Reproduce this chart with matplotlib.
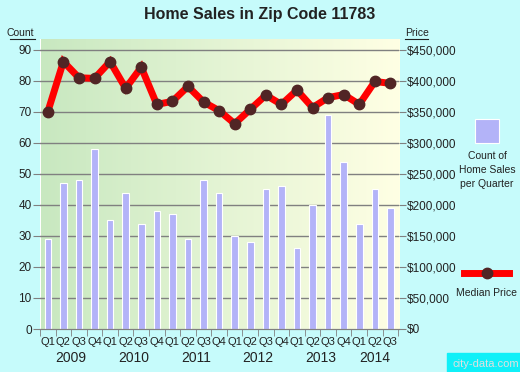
import matplotlib

matplotlib.use("Agg")
import matplotlib.pyplot as plt
import matplotlib.transforms as mtransforms
import numpy as np
from matplotlib.colors import LinearSegmentedColormap

plt.rcParams["font.family"] = ["Liberation Sans", "DejaVu Sans"]

quarters = ["Q1", "Q2", "Q3", "Q4"] * 5 + ["Q1", "Q2", "Q3"]
years = ["2009", "2010", "2011", "2012", "2013", "2014"]
year_centers = [1.5, 5.5, 9.5, 13.5, 17.5, 21]
sales_count = [29, 47, 48, 58, 35, 44, 34, 38, 37, 29, 48, 44,
               30, 28, 45, 46, 26, 40, 69, 54, 34, 45, 39]
median_price = [350000, 431000, 405000, 404000, 431000, 388000, 422000, 362000,
                367000, 391000, 366000, 352000, 331000, 354000, 377000, 362000,
                385000, 357000, 373000, 378000, 362000, 399000, 396000]

BG = "#c6fbfb"
BAR = "#b3b3f8"
TXT = "#222222"
GRID = "#808080"
W, H = 520, 372


def fx(px):
    return px / W


def fy(py):
    return 1 - py / H


fig = plt.figure(figsize=(5.2, 3.72), dpi=100, facecolor=BG)
ax = fig.add_axes([fx(40), fy(329), 359 / W, 290 / H])
ax2 = ax.twinx()

x = np.arange(len(sales_count))
ymax = 93.5
xlim = (-0.45, 22.55)

# gradient background
cmap = LinearSegmentedColormap.from_list("bg", ["#c8e8c0", "#e4f4d4", "#ffffe4"])
ax.imshow(np.linspace(0, 1, 256)[None, :], cmap=cmap, aspect="auto",
          extent=[xlim[0], xlim[1], 0, ymax], zorder=0)

for v in range(10, 100, 10):
    ax.axhline(v, color=GRID, lw=1.0, zorder=1)

ax.bar(x, sales_count, width=0.42, color=BAR, edgecolor="white", linewidth=0.8, zorder=2)

ax2.plot(x, median_price, color="#ff0000", lw=5, zorder=3, solid_joinstyle="miter")
ax2.plot(x, median_price, "o", color="#512525", ms=7.5, zorder=4)

ax.set_xlim(*xlim)
ax.set_ylim(0, ymax)
ax2.set_ylim(0, ymax * 5000)

ax.set_yticks(range(0, 100, 10))
ax.tick_params(axis="y", length=5, color=GRID, labelsize=8.5, labelcolor=TXT, pad=1)
ax2.set_yticks(range(0, 450001, 50000))
ax2.set_yticklabels([f"${v:,}" for v in range(0, 450001, 50000)])
ax2.tick_params(axis="y", length=5, color=GRID, labelsize=8.5, labelcolor=TXT, pad=1)

ax.set_xticks(x)
ax.set_xticklabels(quarters)
ax.set_xticks(np.arange(-0.5, 23, 1), minor=True)
ax.tick_params(axis="x", which="major", length=0, labelsize=8, labelcolor=TXT, pad=6)
ax.tick_params(axis="x", which="minor", length=5, color=GRID)

for a in (ax, ax2):
    for side in ("top", "left", "right"):
        a.spines[side].set_visible(False)
    a.spines["bottom"].set_color(GRID)

year_tf = mtransforms.blended_transform_factory(ax.transData, fig.transFigure)
for xc, yr in zip(year_centers, years):
    ax.text(xc, fy(358), yr, transform=year_tf, ha="center", va="center",
            fontsize=10, color=TXT)

fig.text(0.5, fy(15), "Home Sales in Zip Code 11783", ha="center", va="center",
         fontsize=11.5, fontweight="bold", color=TXT)
fig.text(fx(34), fy(33), "Count", ha="right", va="center", fontsize=7.5, color=TXT)
fig.text(fx(405), fy(33), "Price", ha="left", va="center", fontsize=7.5, color=TXT)
fig.add_artist(plt.Line2D([fx(10), fx(35)], [fy(39)] * 2, color=TXT, lw=0.8))
fig.add_artist(plt.Line2D([fx(405), fx(428)], [fy(39)] * 2, color=TXT, lw=0.8))

# legend
fig.patches.append(plt.Rectangle((fx(475), fy(143)), 24 / W, 24 / H,
                                 transform=fig.transFigure, facecolor=BAR,
                                 edgecolor="white", lw=0.8))
fig.text(fx(487), fy(170), "Count of\nHome Sales\nper Quarter", ha="center",
         va="center", fontsize=7.5, color=TXT, linespacing=1.45)
fig.add_artist(plt.Line2D([fx(464), fx(509)], [fy(273)] * 2, color="#ff0000", lw=5))
fig.add_artist(plt.Line2D([fx(487)], [fy(273)], marker="o", color="#512525", ms=7.5))
fig.text(fx(487), fy(293), "Median Price", ha="center", va="center",
         fontsize=7.5, color=TXT)

fig.text(fx(519), fy(364), "city-data.com", ha="right", va="center",
         fontsize=8, color="#e0e0e0", backgroundcolor="#10f0f8")

fig.savefig("out.png", dpi=100, facecolor=BG)
